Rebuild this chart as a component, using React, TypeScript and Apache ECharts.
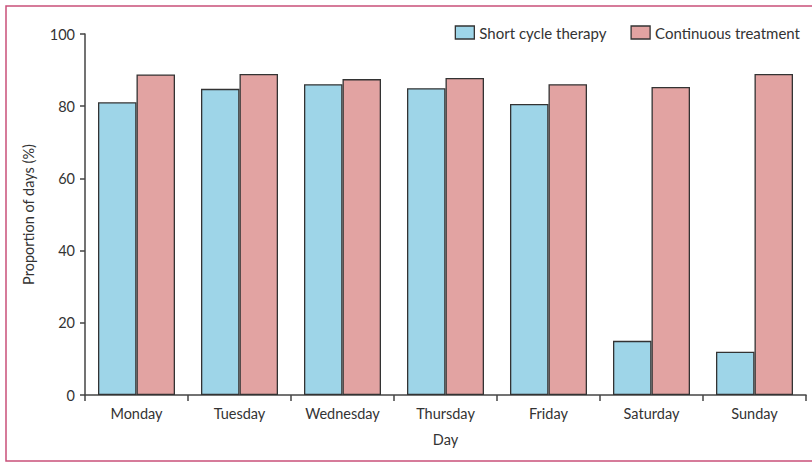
import React, { useEffect, useRef } from "react";
import * as echarts from "echarts";

const days = ["Monday", "Tuesday", "Wednesday", "Thursday", "Friday", "Saturday", "Sunday"];
const shortCycle = [81.1, 84.8, 86.1, 85.0, 80.6, 15.0, 12.0];
const continuous = [88.8, 88.9, 87.5, 87.8, 86.1, 85.3, 88.9];
const yTicks = [0, 20, 40, 60, 80, 100];

const FONT = "Lato";
const TXT = "#333333";

export default function App() {
  const ref = useRef<HTMLDivElement>(null);
  useEffect(() => {
    document.body.style.margin = "0";
    const chart = echarts.init(ref.current!, null, { renderer: "svg" });
    chart.setOption({
      animation: false,
      backgroundColor: "#ffffff",
      textStyle: { fontFamily: FONT, color: TXT },
      graphic: [
        {
          type: "rect",
          shape: { x: 6, y: 6, width: 830, height: 455 },
          style: { fill: "none", stroke: "#c9507a", lineWidth: 1.5 },
          silent: true,
        },
      ],
      legend: {
        top: 20,
        right: 7,
        icon: "rect",
        itemWidth: 19,
        itemHeight: 13,
        itemGap: 24,
        textStyle: { fontFamily: FONT, fontSize: 15, color: TXT },
        itemStyle: { borderColor: "#333", borderWidth: 1.3 },
        data: ["Short cycle therapy", "Continuous treatment"],
      },
      grid: { left: 85, right: 6, top: 34, bottom: 67, containLabel: false },
      xAxis: {
        type: "category",
        data: days,
        name: "Day",
        nameLocation: "middle",
        nameGap: 37,
        nameTextStyle: { fontFamily: FONT, fontSize: 14.5, color: TXT },
        axisLine: { lineStyle: { color: "#444", width: 1.5 } },
        axisTick: { show: true, length: 6, lineStyle: { color: "#444", width: 1.5 } },
        axisLabel: { fontFamily: FONT, fontSize: 14.5, color: TXT, margin: 11 },
      },
      yAxis: {
        type: "value",
        min: 0,
        max: 100,
        interval: 20,
        name: "Proportion of days (%)",
        nameLocation: "middle",
        nameGap: 49,
        nameTextStyle: { fontFamily: FONT, fontSize: 14.5, color: TXT },
        axisLine: { show: true, lineStyle: { color: "#444", width: 1.5 } },
        axisTick: { show: true, length: 5, lineStyle: { color: "#444", width: 1.5 } },
        axisLabel: {
          fontFamily: FONT,
          fontSize: 14.5,
          color: TXT,
          margin: 10,
          formatter: (v: number) => (yTicks.includes(v) ? String(v) : ""),
        },
        splitLine: { show: false },
      },
      series: [
        {
          name: "Short cycle therapy",
          type: "bar",
          data: shortCycle,
          barWidth: 38.5,
          barGap: "0%",
          itemStyle: { color: "#9ed5e8", borderColor: "#333", borderWidth: 1.3 },
        },
        {
          name: "Continuous treatment",
          type: "bar",
          data: continuous,
          barWidth: 38.5,
          barGap: "0%",
          itemStyle: { color: "#e2a3a2", borderColor: "#333", borderWidth: 1.3 },
        },
      ],
    });
    return () => chart.dispose();
  }, []);
  return <div ref={ref} style={{ width: 812, height: 462 }} />;
}
